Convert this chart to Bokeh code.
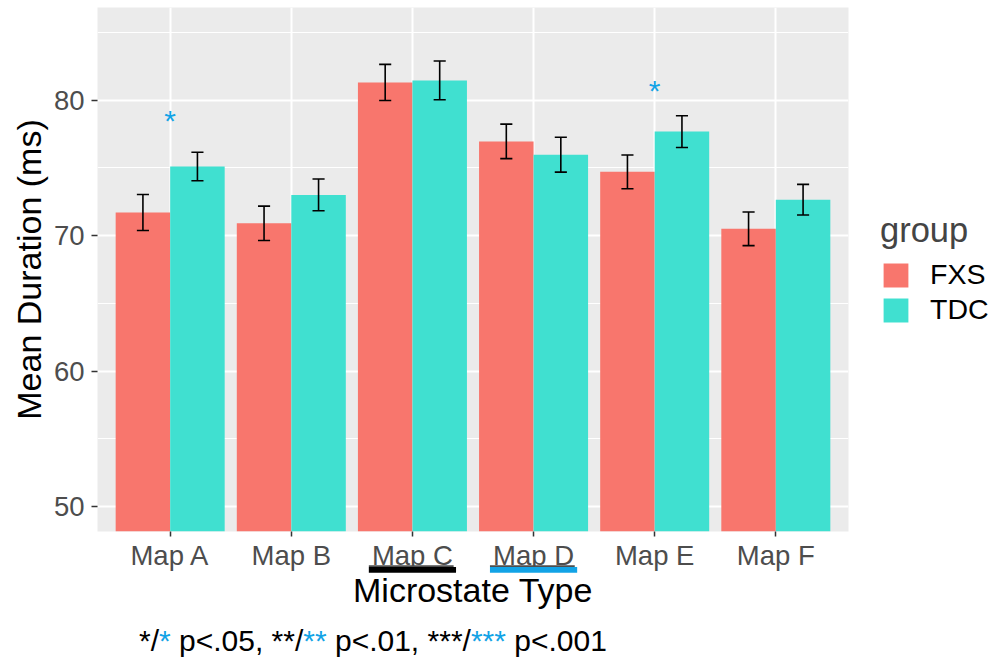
from bokeh.plotting import figure
from bokeh.models import (ColumnDataSource, FactorRange, Range1d, FixedTicker, Legend, LegendItem)
from bokeh.transform import dodge
from bokeh.core.properties import value
from bokeh.embed import file_html
from bokeh.resources import INLINE

# ---------------- data ----------------
maps = ["Map A", "Map B", "Map C", "Map D", "Map E", "Map F"]
groups = ["FXS", "TDC"]
fxs_mean = [71.7, 70.9, 81.3, 76.95, 74.7, 70.5]
fxs_err = [1.33, 1.27, 1.33, 1.27, 1.25, 1.24]
tdc_mean = [75.1, 73.0, 81.45, 75.97, 77.67, 72.65]
tdc_err = [1.05, 1.17, 1.43, 1.29, 1.17, 1.13]
sig_maps = ["Map A", "Map E"]
sig_y = [78.7, 80.9]
y_ticks = [50, 60, 70, 80]
y_minor = [55, 65, 75, 85]
underline_maps = ["Map C", "Map D"]
underline_colors = ["black", "#12A3E6"]
caption_parts = ["*/", "*", " p<.05, **/", "**", " p<.01, ***/", "***", " p<.001"]
caption_colors = ["black", "#12A3E6", "black", "#12A3E6", "black", "#12A3E6", "black"]

FONT = "Liberation Sans"
C_FXS = "#F8766D"
C_TDC = "#40E0D0"
BLUE = "#12A3E6"

# ---------------- layout constants (pixels) ----------------
LEFT, TOP, FW, FH, RIGHT, BOTTOM = 97, 7, 751, 524, 152, 129
Y0, Y1 = 48.16, 86.83
PAD = 0.1                      # categorical padding on each side
X0, X1 = -PAD, len(maps) + PAD


def py(pix):  # canvas pixel row -> data y (for annotations outside the panel)
    return Y1 - (pix - TOP) * (Y1 - Y0) / FH


def px(pix):  # canvas pixel column -> synthetic categorical x
    return X0 + (pix - LEFT) * (X1 - X0) / FW


src = ColumnDataSource(dict(
    map=maps,
    fxs=fxs_mean, fxs_hi=[m + e for m, e in zip(fxs_mean, fxs_err)], fxs_lo=[m - e for m, e in zip(fxs_mean, fxs_err)],
    tdc=tdc_mean, tdc_hi=[m + e for m, e in zip(tdc_mean, tdc_err)], tdc_lo=[m - e for m, e in zip(tdc_mean, tdc_err)],
))

p = figure(x_range=FactorRange(factors=maps, range_padding=PAD, range_padding_units="absolute"),
           y_range=Range1d(Y0, Y1),
           frame_width=FW, frame_height=FH, output_backend="svg", toolbar_location=None,
           min_border_left=LEFT, min_border_right=RIGHT, min_border_top=TOP, min_border_bottom=BOTTOM)

p.background_fill_color = "#EBEBEB"
p.border_fill_color = "white"
p.outline_line_color = None

BAR_W = 0.45
r_fxs = p.vbar(x=dodge("map", -BAR_W / 2, range=p.x_range), top="fxs", bottom=0, width=BAR_W,
               source=src, fill_color=C_FXS, line_color=None)
r_tdc = p.vbar(x=dodge("map", BAR_W / 2, range=p.x_range), top="tdc", bottom=0, width=BAR_W,
               source=src, fill_color=C_TDC, line_color=None)

CAP = 0.05
for key, off in (("fxs", -BAR_W / 2), ("tdc", BAR_W / 2)):
    p.segment(x0=dodge("map", off, range=p.x_range), x1=dodge("map", off, range=p.x_range),
              y0=key + "_lo", y1=key + "_hi", source=src, line_color="black", line_width=1.6)
    for end in ("_lo", "_hi"):
        p.segment(x0=dodge("map", off - CAP, range=p.x_range), x1=dodge("map", off + CAP, range=p.x_range),
                  y0=key + end, y1=key + end, source=src, line_color="black", line_width=1.6)

sig_src = ColumnDataSource(dict(map=sig_maps, y=sig_y, t=["*"] * len(sig_maps)))
p.text(x="map", y="y", text="t", source=sig_src, text_color=BLUE, text_font=value(FONT),
       text_font_size="30px", text_align="center", text_baseline="middle", y_offset=3)

# grid
p.ygrid.ticker = FixedTicker(ticks=y_ticks, minor_ticks=y_minor)
p.ygrid.grid_line_color = "white"
p.ygrid.grid_line_width = 2
p.ygrid.minor_grid_line_color = "white"
p.ygrid.minor_grid_line_width = 1
p.xgrid.grid_line_color = "white"
p.xgrid.grid_line_width = 2

# axes
p.yaxis.ticker = FixedTicker(ticks=y_ticks)
for ax in (p.xaxis[0], p.yaxis[0]):
    ax.axis_line_color = None
    ax.major_tick_line_color = "#333333"
    ax.major_tick_line_width = 1.5
    ax.major_tick_in = 0
    ax.minor_tick_line_color = None
    ax.major_label_text_font = FONT
    ax.major_label_text_font_size = "27.5px"
    ax.major_label_text_color = "#4D4D4D"
    ax.axis_label_text_font = FONT
    ax.axis_label_text_font_size = "34px"
    ax.axis_label_text_font_style = "normal"
    ax.axis_label_text_color = "black"
p.yaxis.axis_label = "Mean Duration (ms)"
p.xaxis.axis_label = "Microstate Type"
p.yaxis.major_tick_out = 6
p.xaxis.major_tick_out = 5
p.yaxis.major_label_standoff = 7
p.yaxis.axis_label_standoff = 3
p.xaxis.major_label_standoff = 3
p.xaxis.axis_label_standoff = -3

# underline of selected tick labels: thin text underline + thick coloured bar (drawn below the panel)
UL_W = 0.72
ul_src = ColumnDataSource(dict(map=underline_maps, c=underline_colors))
p.rect(x=dodge("map", -0.01, range=p.x_range), y=py(565.6), width=UL_W - 0.02, height=1.6, height_units="screen",
       source=ul_src, fill_color="#4D4D4D", line_color=None, level="overlay")
p.rect(x="map", y=py(569.35), width=UL_W, height=5.9, height_units="screen",
       source=ul_src, fill_color="c", line_color=None, level="overlay")

# caption with coloured asterisks
CAP_SIZE = 30
CAP_BASE = 639.5
W = {'*': 389, '/': 278, ' ': 278, 'p': 556, '<': 584, '.': 278, '0': 556, '5': 556, ',': 278, '1': 556}
xs, texts = [], []
x = 138.5
for txt in caption_parts:
    lead = len(txt) - len(txt.lstrip(" "))
    xs.append(px(x + lead * W[' '] / 1000 * CAP_SIZE))
    texts.append(txt.strip(" "))
    x += sum(W[ch] for ch in txt) / 1000 * CAP_SIZE
cap_src = ColumnDataSource(dict(x=xs, y=[py(CAP_BASE)] * len(xs), t=texts, c=caption_colors))
p.text(x="x", y="y", text="t", text_color="c", source=cap_src, text_font=value(FONT),
       text_font_size=f"{CAP_SIZE}px", text_baseline="alphabetic", text_align="left", level="overlay")

# legend in the right panel
legend = Legend(items=[LegendItem(label=groups[0], renderers=[r_fxs]),
                       LegendItem(label=groups[1], renderers=[r_tdc])],
                title="group", location=(32, TOP + FH - 326), orientation="vertical",
                margin=0, padding=0, spacing=2, glyph_width=31, glyph_height=30, label_standoff=19,
                label_text_font=FONT, label_text_font_size="28.5px", label_text_color="black",
                title_text_font=FONT, title_text_font_size="34.5px", title_text_font_style="normal",
                title_standoff=8, border_line_color=None, background_fill_alpha=0)
p.add_layout(legend, "right")

open("out.html", "w").write(file_html(p, INLINE))
